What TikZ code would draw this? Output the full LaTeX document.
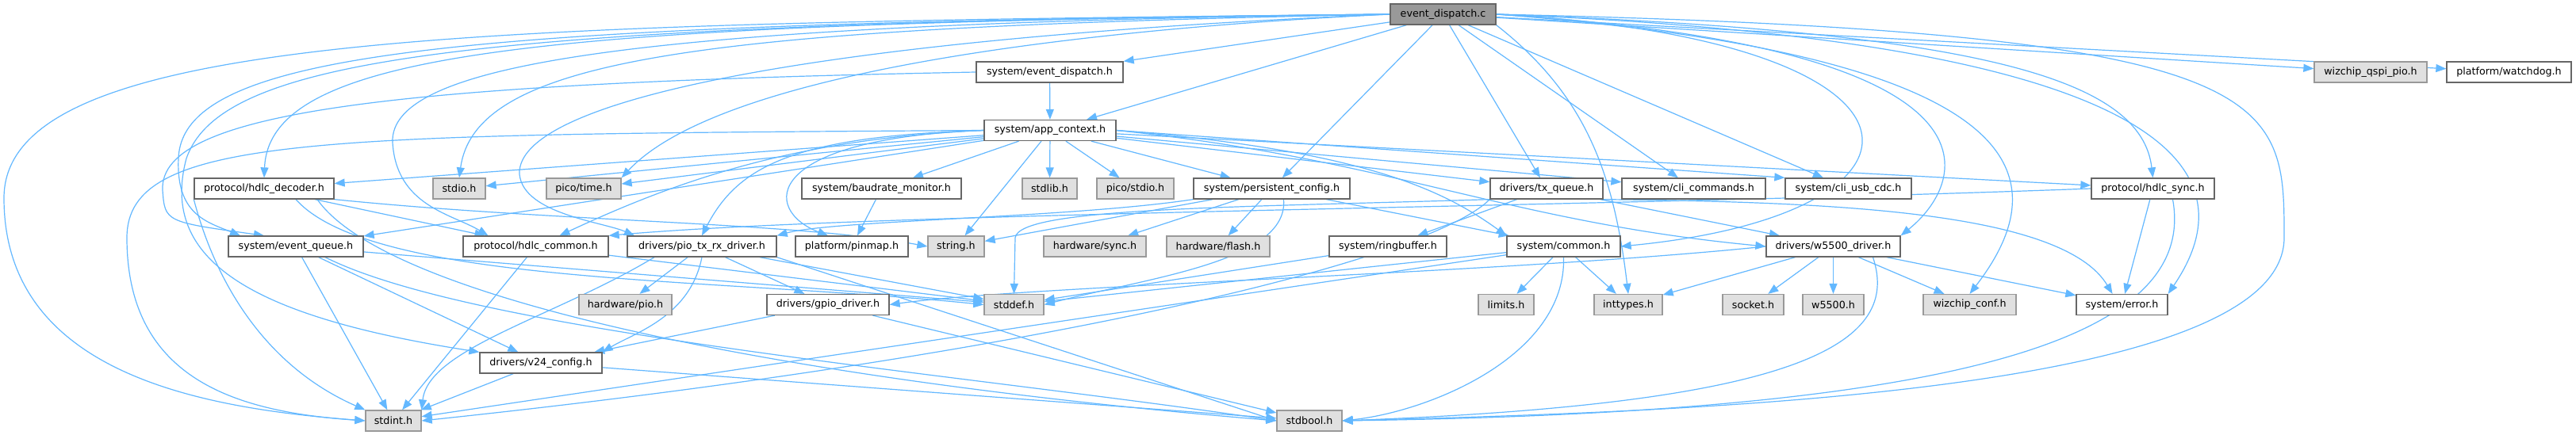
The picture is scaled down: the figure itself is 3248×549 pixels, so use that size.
\documentclass[tikz,border=0pt]{standalone}
\usepackage{fontspec}
\setmainfont{DejaVu Sans}
\usetikzlibrary{arrows.meta,backgrounds}
\definecolor{edgeblue}{HTML}{63B8FF}
\definecolor{boxline}{HTML}{666666}
\definecolor{sysfill}{HTML}{E0E0E0}
\definecolor{sysline}{HTML}{999999}
\definecolor{rootfill}{HTML}{999999}

\begin{document}
\begin{tikzpicture}
[x=1bp,y=-1bp,
 header/.style={draw=boxline,fill=white,line width=1.3bp,minimum height=26bp,inner sep=0pt,font=\fontsize{12.7bp}{15bp}\selectfont},
 syshdr/.style={header,draw=sysline,fill=sysfill},
 roothdr/.style={header,fill=rootfill},
 incl/.style={draw=edgeblue,line width=1.2bp,-{Triangle[length=13bp,width=10bp]}}]

\useasboundingbox (0,0) rectangle (3248,549);

% rank 0 and 1
\node[roothdr,minimum width=133bp] (main) at (1819.5,18) {event\_dispatch.c};
\node[header,minimum width=185bp] (evdisp) at (1323.5,91) {system/event\_dispatch.h};
\node[syshdr,minimum width=142bp] (qspi) at (2989,91) {wizchip\_qspi\_pio.h};
\node[header,minimum width=157bp] (wdog) at (3163.5,91) {platform/watchdog.h};

% rank 2
\node[header,minimum width=166bp] (appctx) at (1324,164.5) {system/app\_context.h};

% rank 3
\node[header,minimum width=176bp] (hdlcdec) at (333,238) {protocol/hdlc\_decoder.h};
\node[syshdr,minimum width=66bp] (stdio) at (579,238) {stdio.h};
\node[syshdr,minimum width=94bp] (picotime) at (736,238) {pico/time.h};
\node[header,minimum width=201bp] (baud) at (1111.5,238) {system/baudrate\_monitor.h};
\node[syshdr,minimum width=69bp] (stdlib) at (1323.5,238) {stdlib.h};
\node[syshdr,minimum width=97bp] (picostdio) at (1431.5,238) {pico/stdio.h};
\node[header,minimum width=197bp] (pconf) at (1603.5,238) {system/persistent\_config.h};
\node[header,minimum width=142bp] (txq) at (1950,238) {drivers/tx\_queue.h};
\node[header,minimum width=181bp] (clicmd) at (2135.5,238) {system/cli\_commands.h};
\node[header,minimum width=159bp] (usbcdc) at (2330.5,238) {system/cli\_usb\_cdc.h};
\node[header,minimum width=155bp] (hdlcsync) at (2714.5,238) {protocol/hdlc\_sync.h};

% rank 4
\node[header,minimum width=170bp] (evq) at (373,311) {system/event\_queue.h};
\node[header,minimum width=183bp] (hdlccom) at (675.5,311) {protocol/hdlc\_common.h};
\node[header,minimum width=188bp] (piotx) at (885,311) {drivers/pio\_tx\_rx\_driver.h};
\node[header,minimum width=142bp] (pinmap) at (1074,311) {platform/pinmap.h};
\node[syshdr,minimum width=71bp] (string) at (1205.5,311) {string.h};
\node[syshdr,minimum width=129bp] (hwsync) at (1380.5,311) {hardware/sync.h};
\node[syshdr,minimum width=130bp] (hwflash) at (1536,311) {hardware/flash.h};
\node[header,minimum width=148bp] (ring) at (1750,311) {system/ringbuffer.h};
\node[header,minimum width=143bp] (common) at (1971.5,311) {system/common.h};
\node[header,minimum width=169bp] (w5500drv) at (2311.5,311) {drivers/w5500\_driver.h};

% rank 5
\node[syshdr,minimum width=117bp] (hwpio) at (788.5,384.5) {hardware/pio.h};
\node[header,minimum width=154bp] (gpio) at (1044,384.5) {drivers/gpio\_driver.h};
\node[syshdr,minimum width=75bp] (stddef) at (1278.5,384.5) {stddef.h};
\node[syshdr,minimum width=70bp] (limits) at (1899,384.5) {limits.h};
\node[syshdr,minimum width=86bp] (inttypes) at (2053,384.5) {inttypes.h};
\node[syshdr,minimum width=77bp] (socket) at (2210.5,384.5) {socket.h};
\node[syshdr,minimum width=77bp] (w5500) at (2311.5,384.5) {w5500.h};
\node[syshdr,minimum width=117bp] (wizconf) at (2483.5,384.5) {wizchip\_conf.h};
\node[header,minimum width=115bp] (error) at (2675.5,384.5) {system/error.h};

% rank 6 and 7
\node[header,minimum width=154bp] (v24) at (682,458) {drivers/v24\_config.h};
\node[syshdr,minimum width=70bp] (stdint) at (496,531) {stdint.h};
\node[syshdr,minimum width=82bp] (stdbool) at (1651,531) {stdbool.h};

\begin{scope}[on background layer]
\fill[white] (0,0) rectangle (3248,549);

% event_dispatch.c
\draw[incl] (main) -- (evdisp);
\draw[incl] (main) -- (appctx);
\draw[incl] (main) -- (pconf);
\draw[incl] (main) -- (txq);
\draw[incl] (main) -- (clicmd);
\draw[incl] (main) -- (usbcdc);
\draw[incl] (main) -- (qspi);
\draw[incl] (main) -- (wdog);
\draw[incl] (main.east) .. controls (2500,40) and (2700,100) .. (hdlcsync.north);
\draw[incl] (main.east) .. controls (2550,60) and (2480,230) .. (w5500drv.north east);
\draw[incl] (main.east) .. controls (2560,70) and (2600,220) .. (wizconf.north);
\draw[incl] (main.east) .. controls (2700,50) and (2850,200) .. (error.north east);
\draw[incl] (main.east) .. controls (2880,40) and (2880,120) .. (2880,300) .. controls (2880,500) and (2100,520) .. (stdbool.east);
\draw[incl] (main.east) .. controls (2470,50) and (2470,270) .. (common.east);
\draw[incl] (main.south east) .. controls (2000,120) and (2035,220) .. (inttypes.north);
\draw[incl] (main.west) .. controls (600,30) and (5,40) .. (5,250) .. controls (5,470) and (250,515) .. (stdint.west);
\draw[incl] (main.west) .. controls (700,30) and (340,60) .. (hdlcdec.north);
\draw[incl] (main.west) .. controls (900,35) and (600,70) .. (stdio.north);
\draw[incl] (main.west) .. controls (1300,40) and (900,100) .. (picotime.north east);
\draw[incl] (main.west) .. controls (600,30) and (230,60) .. (225,200) .. controls (222,270) and (260,280) .. ([xshift=-70bp]evq.north);
\draw[incl] (main.west) .. controls (800,30) and (490,80) .. (495,180) .. controls (500,260) and (570,270) .. ([xshift=-60bp]hdlccom.north);
\draw[incl] (main.west) .. controls (1000,50) and (650,130) .. (655,220) .. controls (660,270) and (760,280) .. ([xshift=-85bp]piotx.north);
\draw[incl] (main.west) .. controls (600,30) and (280,70) .. (235,200) .. controls (200,330) and (320,400) .. (v24.north west);

% system/event_dispatch.h
\draw[incl] (evdisp) -- (appctx);
\draw[incl] (evdisp.west) .. controls (500,105) and (200,140) .. (205,240) .. controls (208,280) .. ([xshift=-40bp]evq.north);

% system/app_context.h
\draw[incl] (appctx) -- (hdlcdec);
\draw[incl] (appctx) -- (stdio);
\draw[incl] (appctx) -- (picotime);
\draw[incl] (appctx) -- (baud);
\draw[incl] (appctx) -- (stdlib);
\draw[incl] (appctx) -- (picostdio);
\draw[incl] (appctx) -- (pconf);
\draw[incl] (appctx) -- (txq);
\draw[incl] (appctx) -- (clicmd);
\draw[incl] (appctx.east) -- (usbcdc.north west);
\draw[incl] (appctx) -- (hdlcsync);
\draw[incl] (appctx) -- (string);
\draw[incl] (appctx) -- (evq);
\draw[incl] (appctx.west) .. controls (1000,175) and (850,230) .. ([xshift=30bp]hdlccom.north);
\draw[incl] (appctx.west) .. controls (1000,172) and (930,210) .. (piotx.north);
\draw[incl] (appctx.west) .. controls (960,175) and (960,265) .. ([xshift=-30bp]pinmap.north);
\draw[incl] (appctx.west) .. controls (400,170) and (160,170) .. (160,300) .. controls (160,480) and (300,520) .. (stdint.west);
\draw[incl] (appctx.east) .. controls (1750,200) and (1900,280) .. (w5500drv.west);
\draw[incl] (appctx.east) .. controls (1720,190) and (1820,240) .. (common.north west);

% system/baudrate_monitor.h
\draw[incl] (baud) -- (pinmap);

% system/persistent_config.h
\draw[incl] (pconf) -- (string);
\draw[incl] (pconf) -- (hwsync);
\draw[incl] (pconf) -- (hwflash);
\draw[incl] ([xshift=15bp]pconf.south) .. controls (1625,330) and (1450,350) .. (stddef.east);
\draw[incl] (pconf.south west) .. controls (1350,275) and (1050,278) .. (piotx.north east);
\draw[incl] (pconf) -- (common);

% drivers/tx_queue.h
\draw[incl] (txq) -- (ring);
\draw[incl] (txq) -- (w5500drv);
\draw[incl] (txq.south west) .. controls (1550,262) and (1285,262) .. (1280,300) -- (stddef.north);
\draw[incl] (txq.south east) .. controls (2300,255) and (2600,265) .. ([xshift=-12bp]error.north);
\draw[incl] (txq.south west) .. controls (1800,330) and (1300,450) .. (stdint.east);

% protocol/hdlc_sync.h
\draw[incl] (hdlcsync) -- (error);
\draw[incl] (hdlcsync.west) .. controls (2000,262) and (1100,268) .. (hdlccom.north east);
\draw[incl] ([xshift=25bp]hdlcsync.south) .. controls (2770,420) and (2500,520) .. (stdbool.east);

% system/ringbuffer.h
\draw[incl] (ring) -- (stddef);

% system/common.h
\draw[incl] (common) -- (limits);
\draw[incl] (common) -- (inttypes);
\draw[incl] (common) -- (stddef);
\draw[incl] (common) -- (stdint);
\draw[incl] (common.south) .. controls (1975,450) and (1800,520) .. (stdbool.east);

% drivers/w5500_driver.h
\draw[incl] (w5500drv) -- (socket);
\draw[incl] (w5500drv) -- (w5500);
\draw[incl] (w5500drv) -- (wizconf);
\draw[incl] (w5500drv) -- (error);
\draw[incl] (w5500drv) -- (inttypes);
\draw[incl] (w5500drv.west) .. controls (1900,345) and (1300,360) .. (gpio.east);
\draw[incl] ([xshift=50bp]w5500drv.south) .. controls (2400,440) and (2250,510) .. (stdbool.east);

% system/event_queue.h
\draw[incl] (evq) -- (stdint);
\draw[incl] (evq) -- (v24);
\draw[incl] (evq) -- (stddef);
\draw[incl] ([xshift=37bp]evq.south) .. controls (600,420) and (1200,470) .. (stdbool.west);

% protocol/hdlc_decoder.h
\draw[incl] (hdlcdec) -- (hdlccom);
\draw[incl] (hdlcdec.south west) .. controls (270,350) and (330,460) .. (stdint.north west);
\draw[incl] ([xshift=40bp]hdlcdec.south) .. controls (470,360) and (900,350) .. (stddef.west);
\draw[incl] ([xshift=67bp]hdlcdec.south) .. controls (490,380) and (1000,480) .. (stdbool.west);
\draw[incl] (hdlcdec.south east) .. controls (700,280) and (1000,280) .. (string.west);

% protocol/hdlc_common.h
\draw[incl] (hdlccom) -- (stdint);
\draw[incl] (hdlccom) -- (stddef);

% drivers/pio_tx_rx_driver.h
\draw[incl] (piotx) -- (hwpio);
\draw[incl] (piotx) -- (gpio);
\draw[incl] (piotx) -- (stddef);
\draw[incl] (piotx.south) .. controls (870,400) and (800,420) .. (v24.north east);
\draw[incl] ([xshift=-60bp]piotx.south) .. controls (700,400) and (540,440) .. (stdint.north east);
\draw[incl] (piotx.south east) -- (stdbool.west);

% drivers/gpio_driver.h
\draw[incl] (gpio) -- (v24);
\draw[incl] (gpio) -- (stdbool);

% drivers/v24_config.h
\draw[incl] (v24) -- (stdint);
\draw[incl] (v24) -- (stdbool);
\end{scope}
\end{tikzpicture}
\end{document}
